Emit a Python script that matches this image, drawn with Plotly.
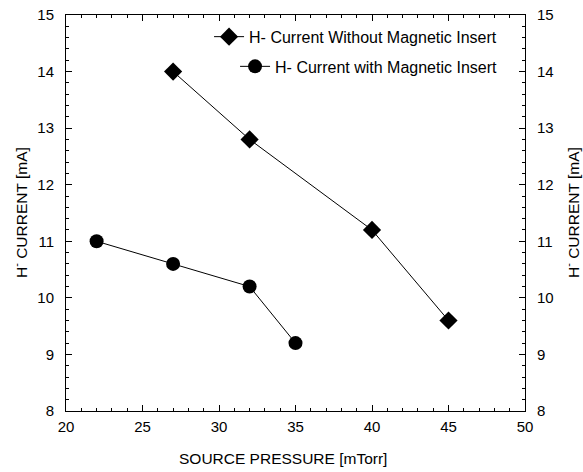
import plotly.graph_objects as go

x_without = [27, 32, 40, 45]
y_without = [14.0, 12.8, 11.2, 9.6]
x_with = [22, 27, 32, 35]
y_with = [11.0, 10.6, 10.2, 9.2]

name_without = "H- Current Without Magnetic Insert"
name_with = "H- Current with Magnetic Insert"
x_title = "SOURCE PRESSURE [mTorr]"
y_title = "H<sup>-</sup> CURRENT [mA]"

fam = "Liberation Sans, Arial, sans-serif"
font = dict(family=fam, size=16, color="black")
tickfont = dict(family=fam, size=15, color="black")
titlefont = dict(family=fam, size=15.5, color="black")

fig = go.Figure()
fig.add_trace(go.Scatter(
    x=x_without, y=y_without, mode="lines+markers", name=name_without,
    line=dict(color="black", width=1),
    marker=dict(symbol="diamond", size=14, color="black"),
    legend="legend"))
fig.add_trace(go.Scatter(
    x=x_with, y=y_with, mode="lines+markers", name=name_with,
    line=dict(color="black", width=1),
    marker=dict(symbol="circle", size=14, color="black"),
    legend="legend2"))
fig.add_trace(go.Scatter(x=[20], y=[8], yaxis="y2", mode="markers",
                         marker=dict(opacity=0), showlegend=False, hoverinfo="skip"))

axis_common = dict(showgrid=False, zeroline=False, showline=True, linecolor="black",
                   linewidth=1, ticks="inside", ticklen=6, tickcolor="black",
                   tickfont=tickfont, automargin=False, ticklabeloverflow="allow")

fig.update_layout(
    width=583, height=472,
    margin=dict(l=66, r=58, t=15, b=61),
    paper_bgcolor="white", plot_bgcolor="white",
    font=font,
    xaxis=dict(range=[20, 50], dtick=5, mirror="ticks",
               ticklabelstandoff=2,
               minor=dict(dtick=1, ticks="inside", ticklen=3, tickcolor="black"),
               **axis_common),
    yaxis=dict(range=[8, 15], dtick=1, mirror=True,
               ticklabelstandoff=8,
               minor=dict(dtick=0.2, ticks="inside", ticklen=3, tickcolor="black"),
               **axis_common),
    yaxis2=dict(range=[8, 15], dtick=1, overlaying="y", side="right",
                ticklabelstandoff=8,
                minor=dict(dtick=0.2, ticks="inside", ticklen=3, tickcolor="black"),
                **axis_common),
    legend=dict(x=0.95, y=0.988, xanchor="right", yanchor="top",
                bgcolor="rgba(0,0,0,0)", font=font, tracegroupgap=0),
    legend2=dict(x=0.95, y=0.913, xanchor="right", yanchor="top",
                 bgcolor="rgba(0,0,0,0)", font=font, tracegroupgap=0),
    annotations=[
        dict(text=x_title, xref="paper", yref="paper", x=(283 - 66) / 459, y=-47 / 396,
             xanchor="center", yanchor="middle", showarrow=False, font=titlefont),
        dict(text=y_title, xref="paper", yref="paper", x=-46 / 459, y=0.5,
             xanchor="center", yanchor="middle", textangle=-90, showarrow=False, font=titlefont),
        dict(text=y_title, xref="paper", yref="paper", x=1 + 47 / 459, y=0.5,
             xanchor="center", yanchor="middle", textangle=-90, showarrow=False, font=titlefont),
    ],
)

fig.write_html("out.html", config={"displayModeBar": False},
               post_script="document.body.style.margin='0';")
